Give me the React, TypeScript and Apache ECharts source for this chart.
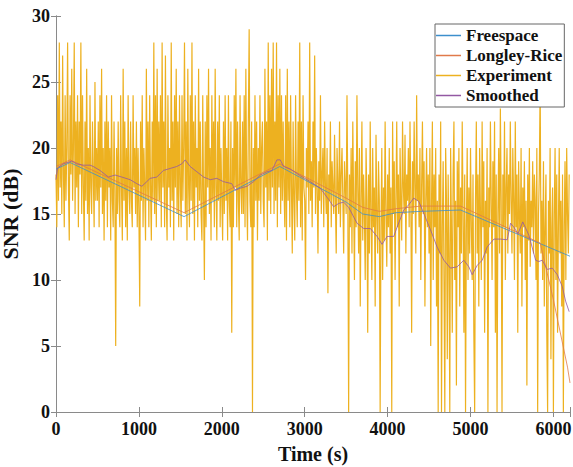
import React, { useEffect, useRef } from "react";
import * as echarts from "echarts";

const SERIES_NAMES = ["Freespace", "Longley-Rice", "Experiment", "Smoothed"];
const X_TICKS = [0, 1000, 2000, 3000, 4000, 5000, 6000];
const Y_TICKS = [0, 5, 10, 15, 20, 25, 30];

// Freespace model [time s, SNR dB]
const freespace: number[][] = [
  [0, 18.4], [170, 18.9], [1545, 14.8], [2700, 18.6], [3500, 15.9], [3700, 15.0],
  [3900, 14.8], [4100, 15.1], [4400, 15.2], [4880, 15.3], [6200, 11.8],
];

// Longley-Rice model [time s, SNR dB]
const longleyRice: number[][] = [
  [0, 18.6], [170, 19.1], [1545, 15.1], [2700, 18.8], [3500, 16.2], [3700, 15.5],
  [3900, 15.2], [4100, 15.4], [4400, 15.6], [4880, 15.6], [5840, 12.8], [6000, 8.5],
  [6170, 3.4], [6200, 2.2],
];

// Experiment samples, one every 10 s starting at 0 s
const EXP_STEP = 10;
const experiment: number[] = [
  // 0 - 240
  18, 14, 24, 16, 28, 17, 22, 15, 27, 18, 14, 24, 16, 20, 28, 17, 13, 24, 18, 26, 16, 20, 28, 15, 22,
  // 250 - 490
  17, 24, 14, 22, 18, 28, 15, 24, 17, 13, 22, 16, 26, 15, 20, 13, 24, 17, 15, 22, 18, 14, 25, 16, 20,
  // 500 - 740
  16, 22, 14, 24, 17, 26, 15, 20, 13, 22, 16, 24, 14, 22, 17, 20, 13, 24, 16, 14, 22, 17, 5, 20, 15,
  // 750 - 990
  22, 16, 14, 24, 17, 13, 26, 16, 22, 14, 20, 13, 24, 17, 15, 22, 16, 14, 24, 17, 20, 15, 22, 14, 20,
  // 1000 - 1240
  15, 8, 22, 16, 24, 14, 20, 17, 13, 26, 16, 22, 14, 24, 17, 13, 22, 16, 28, 15, 24, 14, 26, 16, 22,
  // 1250 - 1490
  16, 24, 14, 28, 17, 22, 14, 27, 16, 13, 24, 17, 20, 14, 28, 16, 22, 13, 24, 17, 26, 15, 22, 14, 24,
  // 1500 - 1740
  17, 14, 24, 16, 20, 28, 15, 22, 13, 26, 17, 14, 24, 16, 28, 15, 22, 13, 24, 17, 20, 14, 26, 16, 22,
  // 1750 - 1990
  15, 13, 24, 16, 10, 22, 14, 24, 17, 26, 15, 20, 13, 24, 16, 22, 14, 26, 17, 13, 22, 16, 24, 14, 20,
  // 2000 - 2240
  16, 13, 22, 15, 24, 16, 20, 13, 24, 16, 14, 22, 6, 20, 14, 24, 17, 26, 14, 22, 16, 13, 24, 17, 15,
  // 2250 - 2490
  22, 15, 24, 14, 26, 17, 13, 22, 29, 16, 14, 22, 0, 20, 14, 24, 16, 22, 13, 20, 16, 24, 15, 20, 22,
  // 2500 - 2740
  16, 14, 26, 17, 22, 13, 28, 16, 24, 15, 26, 17, 28, 15, 22, 16, 28, 14, 24, 17, 26, 15, 24, 16, 22,
  // 2750 - 2990
  17, 14, 24, 13, 26, 16, 22, 14, 24, 17, 12, 22, 16, 13, 24, 17, 14, 22, 16, 28, 14, 22, 13, 24, 17,
  // 3000 - 3240
  16, 10, 20, 17, 22, 15, 28, 16, 19, 14, 22, 17, 27, 15, 20, 17, 12, 19, 16, 24, 15, 18, 20, 14, 22,
  // 3250 - 3490
  17, 15, 20, 9, 18, 16, 22, 14, 19, 17, 15, 21, 16, 12, 20, 17, 15, 22, 14, 18, 20, 16, 12, 19, 17,
  // 3500 - 3740
  15, 24, 16, 0, 18, 14, 20, 12, 22, 16, 10, 19, 14, 24, 17, 12, 20, 8, 16, 22, 13, 18, 15, 10, 20,
  // 3750 - 3990
  16, 6, 18, 12, 22, 15, 10, 20, 14, 17, 8, 21, 15, 12, 19, 16, 0, 14, 20, 10, 17, 13, 22, 15, 11,
  // 4000 - 4240
  18, 14, 20, 12, 17, 0, 22, 15, 19, 10, 16, 22, 14, 18, 8, 20, 16, 13, 22, 17, 15, 21, 12, 18, 16,
  // 4250 - 4490
  20, 14, 22, 16, 6, 19, 15, 22, 17, 12, 24, 16, 18, 14, 20, 10, 17, 22, 15, 19, 8, 16, 20, 14, 18,
  // 4500 - 4740
  12, 20, 5, 16, 22, 10, 18, 14, 20, 8, 16, 0, 18, 12, 22, 0, 14, 19, 10, 0, 20, 16, 4, 18, 12,
  // 4750 - 4990
  0, 20, 14, 6, 18, 22, 10, 16, 2, 19, 14, 20, 8, 17, 12, 22, 15, 6, 18, 0, 14, 20, 10, 17, 12,
  // 5000 - 5240
  20, 14, 10, 18, 6, 0, 16, 22, 12, 18, 8, 20, 15, 10, 22, 14, 19, 6, 16, 12, 20, 0, 17, 14, 22,
  // 5250 - 5490
  16, 10, 19, 14, 22, 6, 18, 0, 15, 20, 12, 23, 16, 0, 18, 14, 22, 10, 17, 20, 12, 18, 15, 22, 16,
  // 5500 - 5740
  12, 20, 16, 10, 22, 14, 18, 6, 19, 15, 12, 20, 8, 17, 14, 19, 10, 16, 2, 18, 13, 20, 11, 16, 14,
  // 5750 - 5990
  19, 12, 18, 16, 10, 20, 0, 15, 18, 25, 12, 16, 10, 19, 8, 14, 18, 6, 0, 16, 12, 20, 4, 14, 17,
  // 6000 - 6190
  0, 15, 20, 10, 18, 6, 14, 20, 12, 16, 8, 18, 0, 14, 19, 10, 20, 15, 12, 18,
];

// Smoothed experiment [time s, SNR dB]
const smoothed: number[][] = [
  [0, 17.6], [20, 18.5], [88, 18.8], [190, 19.0], [250, 18.8], [330, 18.7], [410, 18.7],
  [450, 18.6], [530, 18.3], [632, 17.8], [713, 17.95], [793, 17.8], [894, 17.6], [974, 17.3],
  [1035, 17.1], [1095, 17.45], [1135, 17.7], [1216, 17.8], [1296, 18.3], [1377, 18.45],
  [1457, 18.6], [1518, 18.8], [1558, 19.1], [1618, 18.6], [1699, 18.2], [1780, 17.8],
  [1860, 17.6], [1940, 17.7], [2020, 17.45], [2120, 17.3], [2162, 16.8], [2222, 16.95],
  [2303, 17.1], [2383, 17.45], [2464, 17.95], [2544, 18.2], [2605, 18.3], [2665, 19.1],
  [2705, 19.1], [2745, 18.6], [2826, 18.4], [2947, 17.9], [3068, 17.45], [3188, 16.95],
  [3289, 16.1], [3349, 15.55], [3410, 15.8], [3470, 15.9], [3530, 15.5], [3631, 14.3],
  [3712, 13.9], [3792, 13.9], [3873, 13.3], [3933, 12.7], [3994, 13.3], [4074, 13.3],
  [4114, 14.0], [4195, 15.3], [4255, 15.7], [4315, 16.2], [4376, 15.95], [4436, 15.05],
  [4517, 13.8], [4597, 12.5], [4678, 11.5], [4758, 10.9], [4839, 11.0], [4919, 11.5],
  [4980, 11.0], [5020, 10.4], [5080, 11.1], [5141, 11.5], [5201, 12.5], [5282, 13.1],
  [5362, 13.1], [5443, 13.05], [5483, 14.3], [5523, 14.0], [5572, 13.5], [5630, 14.4],
  [5704, 13.4], [5785, 11.5], [5825, 11.4], [5865, 11.5], [5926, 10.8], [5986, 10.9],
  [6047, 10.4], [6107, 9.5], [6147, 8.4], [6190, 7.6],
];

const COLORS = ["#3d8fcc", "#e07a4a", "#EDB120", "#9358a3"];
const FONT = "'Liberation Serif', 'Times New Roman', serif";
const AXIS_COLOR = "#8a8a8a";

export default function App() {
  const ref = useRef<HTMLDivElement>(null);

  useEffect(() => {
    document.body.style.margin = "0";
    if (!ref.current) return;
    const chart = echarts.init(ref.current, undefined, { renderer: "svg" });
    const expData = experiment.map((v, i) => [i * EXP_STEP, v]);
    const tickLabel = {
      fontFamily: FONT,
      fontWeight: "bold" as const,
      fontSize: 18,
      color: "#111",
    };
    const axisLine = { show: true, lineStyle: { color: AXIS_COLOR, width: 1 } };
    const axisTick = { show: true, inside: true, length: 5, lineStyle: { color: AXIS_COLOR } };
    chart.setOption({
      animation: false,
      backgroundColor: "#fff",
      grid: {
        left: 56,
        right: 3,
        top: 16,
        bottom: 55,
        containLabel: false,
        outerBoundsMode: "none",
      },
      xAxis: [
        {
          type: "value",
          min: 0,
          max: 6200,
          interval: 1000,
          name: "Time (s)",
          nameLocation: "middle",
          nameGap: 32,
          nameTextStyle: { fontFamily: FONT, fontWeight: "bold", fontSize: 20, color: "#111" },
          axisLine,
          axisTick,
          splitLine: { show: false },
          axisLabel: {
            ...tickLabel,
            margin: 8,
            formatter: (v: number) => (X_TICKS.includes(v) ? String(v) : ""),
          },
        },
        {
          type: "value",
          position: "top",
          min: 0,
          max: 6200,
          interval: 1000,
          axisLine,
          axisTick,
          splitLine: { show: false },
          axisLabel: { show: false },
        },
      ],
      yAxis: [
        {
          type: "value",
          min: 0,
          max: 30,
          interval: 5,
          name: "SNR (dB)",
          nameLocation: "middle",
          nameGap: 25,
          nameTextStyle: {
            fontFamily: FONT,
            fontWeight: "bold",
            fontSize: 22,
            lineHeight: 22,
            color: "#111",
          },
          axisLine,
          axisTick,
          splitLine: { show: false },
          axisLabel: {
            ...tickLabel,
            margin: 6,
            formatter: (v: number) => (Y_TICKS.includes(v) ? String(v) : ""),
          },
        },
        {
          type: "value",
          position: "right",
          min: 0,
          max: 30,
          interval: 5,
          axisLine,
          axisTick,
          splitLine: { show: false },
          axisLabel: { show: false },
        },
      ],
      legend: {
        data: SERIES_NAMES,
        orient: "vertical",
        left: 435,
        top: 24,
        padding: [3, 2, 3, 1],
        itemGap: 3,
        itemWidth: 25,
        itemHeight: 1.5,
        icon: "rect",
        backgroundColor: "#fff",
        borderColor: "#666",
        borderWidth: 1,
        borderRadius: 0,
        textStyle: {
          fontFamily: FONT,
          fontWeight: "bold",
          fontSize: 17,
          lineHeight: 17,
          color: "#111",
        },
      },
      series: [
        {
          name: SERIES_NAMES[0],
          type: "line",
          data: freespace,
          symbol: "none",
          z: 3,
          lineStyle: { color: COLORS[0], width: 0.8 },
          itemStyle: { color: COLORS[0] },
        },
        {
          name: SERIES_NAMES[1],
          type: "line",
          data: longleyRice,
          symbol: "none",
          z: 3,
          lineStyle: { color: COLORS[1], width: 0.8 },
          itemStyle: { color: COLORS[1] },
        },
        {
          name: SERIES_NAMES[2],
          type: "line",
          data: expData,
          symbol: "none",
          z: 2,
          lineStyle: { color: COLORS[2], width: 1.2 },
          itemStyle: { color: COLORS[2] },
        },
        {
          name: SERIES_NAMES[3],
          type: "line",
          data: smoothed,
          symbol: "none",
          z: 4,
          lineStyle: { color: COLORS[3], width: 0.8 },
          itemStyle: { color: COLORS[3] },
        },
      ],
    });
    return () => chart.dispose();
  }, []);

  return <div ref={ref} style={{ width: 573, height: 467 }} />;
}
